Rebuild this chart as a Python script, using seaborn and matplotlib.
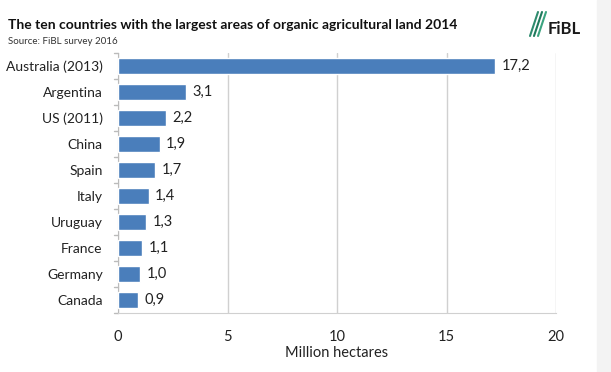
import matplotlib
matplotlib.use("Agg")
import matplotlib.pyplot as plt
import seaborn as sns
import pandas as pd

countries = ["Australia (2013)", "Argentina", "US (2011)", "China", "Spain",
             "Italy", "Uruguay", "France", "Germany", "Canada"]
hectares = [17.2, 3.1, 2.2, 1.9, 1.7, 1.4, 1.3, 1.1, 1.0, 0.9]
x_ticks = [0, 5, 10, 15, 20]

df = pd.DataFrame({"country": countries, "area": hectares})

sns.set_style("white")
plt.rcParams["font.family"] = ["Lato", "DejaVu Sans"]

fig = plt.figure(figsize=(6.11, 3.72), dpi=100)
fig.patch.set_facecolor("white")
# light grey strip at the right edge of the screenshot
fig.patches.append(plt.Rectangle((597 / 611, 0), 14 / 611, 1, transform=fig.transFigure,
                                 color="#f3f3f3", zorder=0))

ax = fig.add_axes([118 / 611, 1 - 313 / 372, 438 / 611, 260 / 372])
sns.barplot(data=df, x="area", y="country", color="#4a7ebb", width=0.62,
            saturation=1, ax=ax, zorder=3)

ax.set_xticks(x_ticks)
ax.set_xticklabels([str(t) for t in x_ticks], fontsize=10.5, color="#222222")
ax.tick_params(axis="x", length=0, pad=12)
ax.tick_params(axis="y", length=0, pad=11, labelsize=10, labelcolor="#222222")
ax.grid(axis="x", color="#d0d0d0", linewidth=1, zorder=0)
ax.set_ylabel("")
ax.set_xlabel("Million hectares", fontsize=10.5, color="#222222", labelpad=2)

for s in ["top", "right"]:
    ax.spines[s].set_visible(False)
ax.spines["left"].set_color("#bbbbbb")
ax.spines["bottom"].set_color("#d0d0d0")

# small ticks between categories on the left axis
for i in range(len(countries) + 1):
    ax.plot([-0.18, 0], [i - 0.5, i - 0.5], color="#bbbbbb", lw=1, clip_on=False)

for i, v in enumerate(hectares):
    ax.text(v + 0.3, i, f"{v:.1f}".replace(".", ","), va="center", ha="left",
            fontsize=10.5, color="#222222")

ax.set_xlim(0, 20)
ax.set_ylim(len(countries) - 0.5, -0.5)

fig.text(8 / 611, 1 - 29 / 372, "The ten countries with the largest areas of organic agricultural land 2014",
         fontsize=10, fontweight="bold", color="#111111", va="baseline")
fig.text(8 / 611, 1 - 44 / 372, "Source: FiBL survey 2016", fontsize=7, color="#333333",
         va="baseline")

# FiBL logo
fig.text(548 / 611, 1 - 34 / 372, "FiBL", fontsize=12, fontweight="bold", color="#1a1a1a",
         va="baseline")
for dx, c in [(0, "#2e8b6e"), (4, "#1f7a5c"), (8, "#3aa37f")]:
    fig.lines.append(plt.Line2D([(530 + dx) / 611, (538 + dx) / 611],
                                [1 - 36 / 372, 1 - 12 / 372], transform=fig.transFigure,
                                color=c, lw=1.5))

fig.savefig("out.png", dpi=100)
